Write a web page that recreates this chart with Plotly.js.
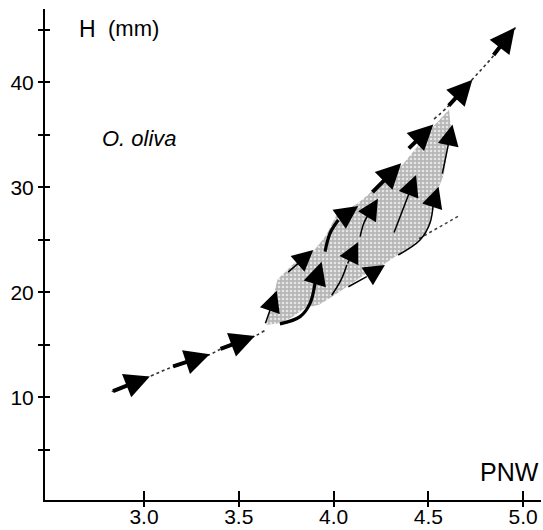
<!DOCTYPE html>
<html>
<head>
<meta charset="utf-8">
<script src="https://cdn.plot.ly/plotly-3.0.1.min.js"></script>
<style>html,body{margin:0;padding:0;background:#fff;}#chart{width:543px;height:530px;}</style>
</head>
<body>
<div id="chart"></div>
<script>
// ---- data ----
var xTickVals = [3.0, 3.5, 4.0, 4.5, 5.0];
var xTickText = ['3.0', '3.5', '4.0', '4.5', '5.0'];
var yTickVals = [5, 10, 15, 20, 25, 30, 35, 40, 45];
var yTickText = ['', '10', '', '20', '', '30', '', '40', ''];

// shaded region outline (PNW, H)
var regionX = [3.645, 3.704, 3.813, 3.896, 3.959, 4.014, 4.124, 4.179, 4.271, 4.362, 4.435, 4.527, 4.609,
               4.618, 4.600, 4.581, 4.545, 4.527, 4.508, 4.481, 4.454, 4.399, 4.343, 4.252, 4.179, 4.088,
               3.996, 3.923, 3.850, 3.786, 3.722, 3.645];
var regionY = [16.9, 21.22, 23.14, 23.95, 25.39, 27.31, 28.44, 29.24, 30.84, 32.12, 33.73, 35.81, 37.42,
               35.81, 33.41, 31.16, 29.56, 27.95, 26.35, 25.39, 25.07, 24.10, 23.63, 22.50, 21.87, 20.74,
               19.62, 18.82, 18.50, 17.70, 17.06, 16.9];

// dotted trend line
var trendX = [2.83, 3.03, 3.15, 3.35, 3.40, 3.585, 3.65, null, 4.53, 4.60, 4.73, 4.84, 4.96];
var trendY = [10.54, 11.99, 12.89, 14.10, 14.55, 15.84, 16.5, null, 36.5, 37.64, 40.24, 42.45, 45.21];
// lower dotted branch
var branchX = [4.45, 4.55, 4.664];
var branchY = [25.1, 26.1, 27.31];

// big arrows along the trend: tail -> tip
var bigTailX = [2.829, 3.146, 3.396, 4.197, 4.389, 4.600, 4.838];
var bigTailY = [10.54, 12.89, 14.55, 29.40, 33.57, 37.64, 42.45];
var bigTipX  = [3.031, 3.347, 3.585, 4.357, 4.526, 4.732, 4.956];
var bigTipY  = [11.99, 14.10, 15.84, 32.29, 35.97, 40.24, 45.21];

// thick curved arrows inside the region
var thick1X = [3.717, 3.823, 3.876, 3.902, 3.937];
var thick1Y = [16.99, 17.68, 18.95, 20.86, 22.91];
var thick2X = [3.955, 3.981, 4.025, 4.130];
var thick2Y = [23.87, 25.62, 26.89, 28.22];

// thin arrows inside the region
var thin1X = [3.638, 3.700];           var thin1Y = [16.9, 20.15];
var thin2X = [3.753, 3.893];           var thin2Y = [21.8, 24.03];
var thin3X = [3.990, 4.040, 4.070, 4.130]; var thin3Y = [19.70, 21.20, 22.60, 24.80];
var thin4X = [4.140, 4.160, 4.190, 4.234]; var thin4Y = [25.30, 26.60, 27.60, 28.90];
var thin5X = [4.078, 4.175, 4.271];    var thin5Y = [20.53, 21.49, 22.60];
var thin6X = [4.316, 4.435];           var thin6Y = [25.55, 31.16];
var thin7X = [4.341, 4.456, 4.508, 4.526, 4.554]; var thin7Y = [23.55, 24.98, 26.57, 28.48, 30.04];
var thin8X = [4.572, 4.627];           var thin8Y = [31.16, 35.97];

// ---- build figure ----
var FONT = 'Liberation Sans, Arial, Helvetica, sans-serif';
var traces = [];
traces.push({
  x: regionX, y: regionY, mode: 'lines', fill: 'toself', line: {width: 0, color: 'rgba(0,0,0,0)'},
  fillcolor: '#b8b8b8',
  fillpattern: {shape: '.', bgcolor: '#b6b6b6', fgcolor: '#e6e6e6', size: 4, solidity: 0.35},
  hoverinfo: 'skip', showlegend: false
});
traces.push({x: trendX, y: trendY, mode: 'lines', line: {color: '#333', width: 1.6, dash: 'dot', shape: 'spline'}, showlegend: false, connectgaps: false});
traces.push({x: branchX, y: branchY, mode: 'lines', line: {color: '#444', width: 1.6, dash: 'dot'}, showlegend: false});

var annotations = [];
function arrow(tx, ty, hx, hy, w, s) {
  annotations.push({x: hx, y: hy, ax: tx, ay: ty, xref: 'x', yref: 'y', axref: 'x', ayref: 'y',
    showarrow: true, arrowhead: 2, arrowwidth: w, arrowsize: s, arrowcolor: '#000', text: ''});
}
function curve(xs, ys, w, s) {
  var n = xs.length;
  if (n > 2) {
    traces.push({x: xs.slice(0, n - 1), y: ys.slice(0, n - 1), mode: 'lines',
      line: {color: '#000', width: w, shape: 'spline'}, showlegend: false, hoverinfo: 'skip'});
  }
  arrow(xs[n - 2], ys[n - 2], xs[n - 1], ys[n - 1], w, s);
}
for (var i = 0; i < bigTipX.length; i++) arrow(bigTailX[i], bigTailY[i], bigTipX[i], bigTipY[i], 4, 1.25);
curve(thick1X, thick1Y, 3.2, 1.45);
curve(thick2X, thick2Y, 3.2, 1.45);
[[thin1X, thin1Y], [thin2X, thin2Y], [thin3X, thin3Y], [thin4X, thin4Y], [thin5X, thin5Y],
 [thin6X, thin6Y], [thin7X, thin7Y], [thin8X, thin8Y]].forEach(function (c) { curve(c[0], c[1], 1.5, 2.8); });

// text labels
annotations.push({x: 2.648, y: 45.1, xref: 'x', yref: 'y', text: 'H', showarrow: false, xanchor: 'left', yanchor: 'middle', font: {family: FONT, size: 23, color: '#000'}});
annotations.push({x: 2.798, y: 45.1, xref: 'x', yref: 'y', text: '(mm)', showarrow: false, xanchor: 'left', yanchor: 'middle', font: {family: FONT, size: 22, color: '#000'}});
annotations.push({x: 2.768, y: 34.6, xref: 'x', yref: 'y', text: 'O. oliva', showarrow: false, xanchor: 'left', yanchor: 'middle', font: {family: FONT, size: 22, color: '#000', style: 'italic'}});
annotations.push({x: 5.094, y: 2.9, xref: 'x', yref: 'y', text: 'PNW', showarrow: false, xanchor: 'right', yanchor: 'middle', font: {family: FONT, size: 25, color: '#000'}});

var xr = [2.478, 5.094], yr = [0.219, 46.98];
var axCommon = {showgrid: false, zeroline: false, showline: true, linecolor: '#000', linewidth: 2, tickcolor: '#000', tickwidth: 2, fixedrange: true};
var layout = {
  width: 543, height: 530,
  margin: {l: 45, r: 2, t: 9, b: 30},
  paper_bgcolor: '#fff', plot_bgcolor: '#fff',
  showlegend: false,
  xaxis: Object.assign({}, axCommon, {range: xr, tickmode: 'array', tickvals: xTickVals, ticktext: xTickText, ticks: 'outside', ticklen: 5,
    ticklabelstandoff: -8, tickfont: {family: FONT, size: 21, color: '#000'}}),
  yaxis: Object.assign({}, axCommon, {range: yr, tickmode: 'array', tickvals: yTickVals, ticktext: yTickText, ticks: 'outside', ticklen: 5,
    tickfont: {family: FONT, size: 21, color: '#000'}}),
  xaxis2: Object.assign({}, axCommon, {range: xr, overlaying: 'x', anchor: 'y', side: 'bottom', tickmode: 'array', tickvals: xTickVals, ticks: 'inside', ticklen: 9, showticklabels: false}),
  yaxis2: Object.assign({}, axCommon, {range: yr, overlaying: 'y', anchor: 'x', side: 'left', tickmode: 'array', tickvals: yTickVals, ticks: 'inside', ticklen: 5, showticklabels: false}),
  annotations: annotations
};
traces.push({x: [xr[0]], y: [yr[0]], xaxis: 'x2', yaxis: 'y2', mode: 'markers', marker: {opacity: 0}, hoverinfo: 'skip', showlegend: false});
Plotly.newPlot('chart', traces, layout, {staticPlot: true, displayModeBar: false});
</script>
</body>
</html>
